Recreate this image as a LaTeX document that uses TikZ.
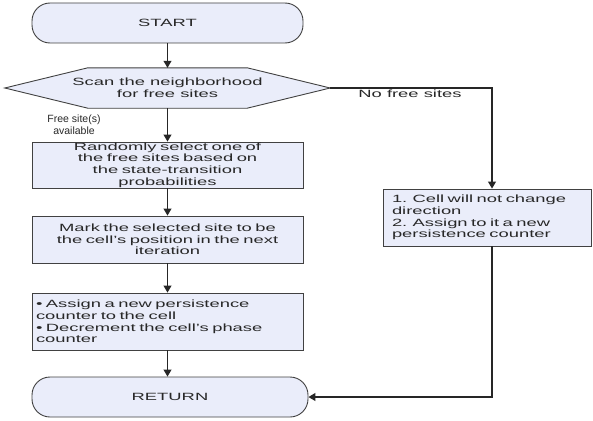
\documentclass[tikz,border=0pt]{standalone}
\usepackage{fontspec}
\setmainfont[FakeStretch=1.75]{Liberation Sans}
\newfontfamily\plainfont{Liberation Sans}
\usetikzlibrary{arrows.meta,backgrounds}
\definecolor{boxfill}{RGB}{234,237,250}
\definecolor{edge}{RGB}{65,65,65}
\definecolor{ink}{RGB}{40,40,40}
\begin{document}
\lineskiplimit=-50pt
\begin{tikzpicture}[x=1pt,y=-1pt,
  txt/.style={font=\fontsize{10.5}{11.7}\selectfont, text=ink},
  base/.style={draw=edge, line width=0.9pt, fill=boxfill, txt, inner sep=0pt},
  terminal/.style={base, rounded corners=18pt, minimum width=271pt, minimum height=40pt},
  procbox/.style={base, minimum width=271pt, text width=263pt, align=center},
  flow/.style={draw=black!85, line width=1.1pt, -{Triangle[length=7pt,width=8pt]}},
  lbl/.style={txt, inner sep=0pt, align=center}]

\useasboundingbox (0,0) rectangle (593,420);

% terminals
\node[terminal] (start) at (167.5,23) {START};
\node[terminal, minimum width=276pt] (ret) at (170,397) {RETURN};

% decision (hexagon drawn behind the text node)
\node[txt, minimum width=325pt, minimum height=40pt, inner sep=0pt, align=center]
  (scan) at (167.5,88) {Scan the neighborhood\\for free sites};
\begin{pgfonlayer}{background}
  \draw[draw=edge, line width=0.9pt, fill=boxfill]
    (scan.west) -- ([xshift=83pt]scan.north west) -- ([xshift=-83pt]scan.north east)
    -- (scan.east) -- ([xshift=-83pt]scan.south east) -- ([xshift=83pt]scan.south west)
    -- cycle;
\end{pgfonlayer}

% process boxes
\node[procbox, minimum height=46pt] (rand) at (167.5,165)
  {Randomly select one of\\the free sites based on\\the state-transition\\probabilities};
\node[procbox, minimum height=47pt] (mark) at (167.5,239.5)
  {Mark the selected site to be\\the cell's position in the next\\iteration};
\node[procbox, minimum height=57pt, align=left] (assign) at (167.5,321.5)
  {• Assign a new persistence\\counter to the cell\\• Decrement the cell's phase\\counter};
\node[base, minimum width=208pt, minimum height=57pt, text width=190pt, align=left]
  (cell) at (487,217.5)
  {1. Cell will not change\\direction\\2. Assign to it a new\\persistence counter};

% branch labels
\node[lbl, font=\plainfont\fontsize{10.5}{11.7}\selectfont] (freelbl) at (74,125)
  {Free site(s)\\available};
\node[lbl] (nofree) at (410,94) {No free sites};

% connectors
\coordinate (turn) at (492,88);
\draw[flow] (start) -- (scan.north);
\draw[flow] (scan.south) -- (rand);
\draw[flow] (rand) -- (mark);
\draw[flow] (mark) -- (assign);
\draw[flow] (assign.south) -- (assign.south |- ret.north);
\draw[flow] (scan.east) -- (turn) -- (turn |- cell.north);
\draw[flow] (turn |- cell.south) -- (turn |- ret.east) -- (ret.east);
\end{tikzpicture}
\end{document}
